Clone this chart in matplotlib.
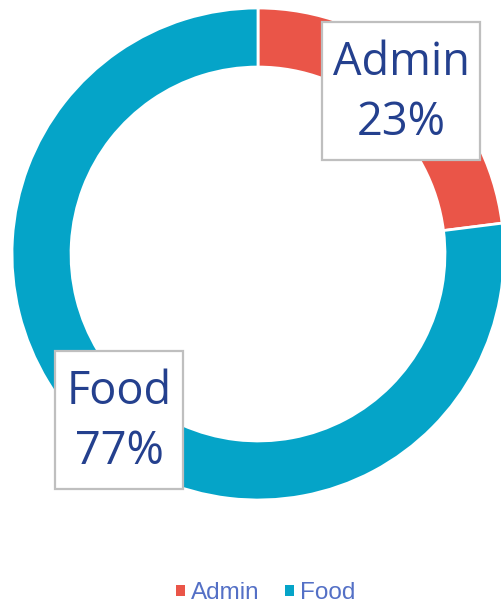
import matplotlib
matplotlib.use("Agg")
import matplotlib.pyplot as plt
from matplotlib.patches import Rectangle

categories = ["Admin", "Food"]
values = [23, 77]
colors = ["#EA5548", "#05A4C8"]

W, H = 501, 603
fig = plt.figure(figsize=(W / 100, H / 100), dpi=100)
ax = fig.add_axes([0, 0, 1, 1])
ax.axis("off")

cx, cy, R = 258, H - 254, 246
wedges, _ = ax.pie(values, colors=colors, startangle=90, counterclock=False,
                   radius=R, center=(cx, cy),
                   wedgeprops=dict(width=R * 0.24, edgecolor="white", linewidth=2))
ax.set_xlim(0, W)
ax.set_ylim(0, H)
ax.set_aspect("equal")

label_pos = [(401, H - 93), (119, H - 422)]
renderer = fig.canvas.get_renderer()
for cat, v, (x, y) in zip(categories, values, label_pos):
    t = ax.text(x, y, f"{cat}\n{v}%", ha="center", va="center", fontsize=32.5,
                family="Open Sans", color="#24408E", linespacing=1.42, zorder=5)
    bb = t.get_window_extent(renderer)
    bw = bb.width + 22
    bh = 138
    ax.add_patch(Rectangle((x - bw / 2, y - bh / 2 + 2), bw, bh, facecolor="white",
                           edgecolor="#BFBFBF", linewidth=1.6, zorder=4))

leg = ax.legend(wedges, categories, loc="lower center", bbox_to_anchor=(0.53, -0.038),
                ncol=2, frameon=False, handlelength=0.36, handleheight=0.36,
                handletextpad=0.25, columnspacing=1.05,
                prop={"family": "Liberation Sans", "size": 17.5})
for t in leg.get_texts():
    t.set_color("#5470C6")
for h in leg.legend_handles:
    h.set_edgecolor("none")
    h.set_linewidth(0)

fig.savefig("out.png", dpi=100)
